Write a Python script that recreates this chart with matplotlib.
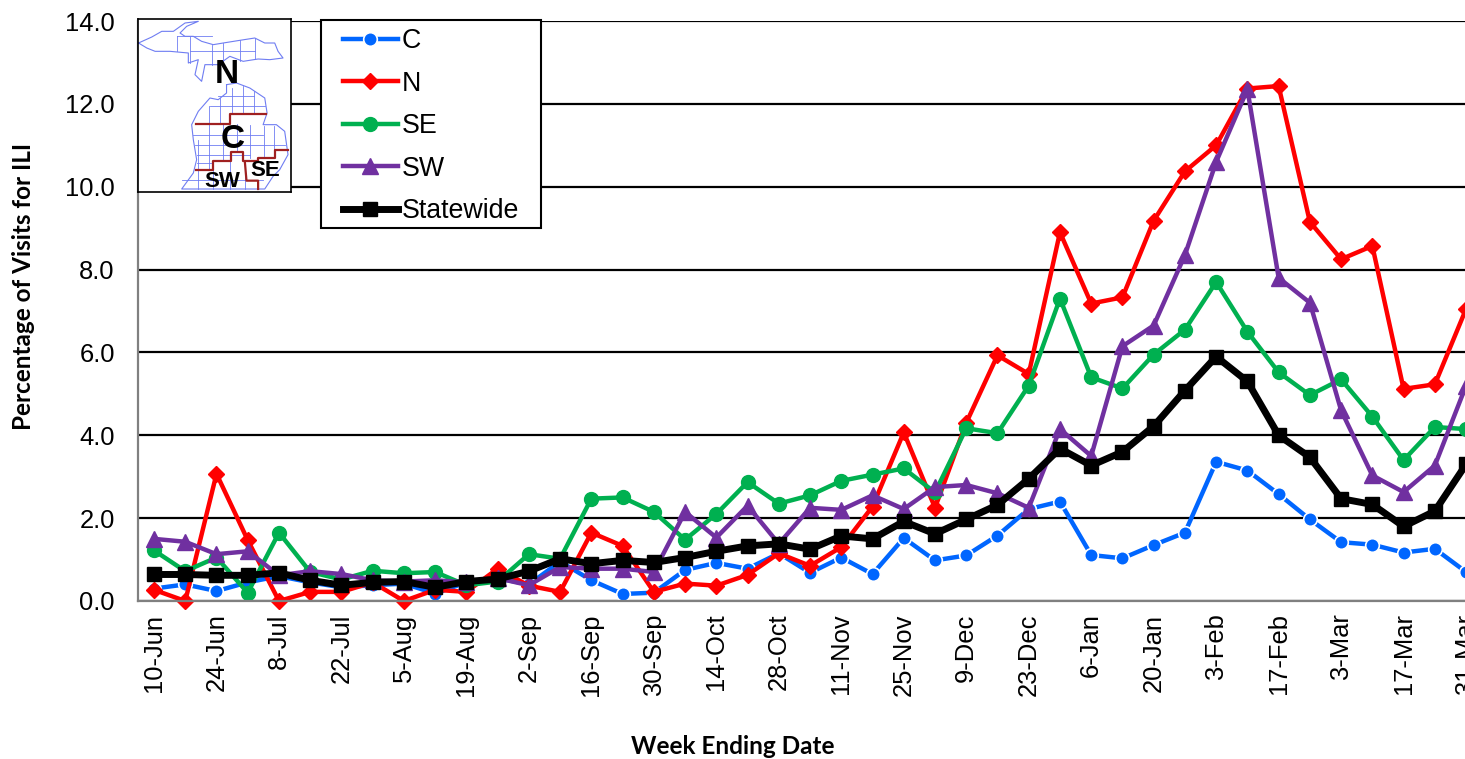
import matplotlib
matplotlib.use('Agg')
import matplotlib.pyplot as plt
from matplotlib.patches import Rectangle

W = 1465
H = 759

weeks = ['10-Jun','17-Jun','24-Jun','1-Jul','8-Jul','15-Jul','22-Jul','29-Jul','5-Aug','12-Aug','19-Aug','26-Aug',
         '2-Sep','9-Sep','16-Sep','23-Sep','30-Sep','7-Oct','14-Oct','21-Oct','28-Oct','4-Nov','11-Nov','18-Nov',
         '25-Nov','2-Dec','9-Dec','16-Dec','23-Dec','30-Dec','6-Jan','13-Jan','20-Jan','27-Jan','3-Feb','10-Feb',
         '17-Feb','24-Feb','3-Mar','10-Mar','17-Mar','24-Mar','31-Mar']

c_vals = [0.30,0.40,0.24,0.45,0.60,0.45,0.33,0.38,0.42,0.18,0.45,0.55,0.40,0.95,0.50,0.17,0.20,0.75,0.92,0.78,1.15,
          0.68,1.05,0.65,1.52,0.98,1.10,1.58,2.22,2.40,1.11,1.03,1.35,1.65,3.36,3.15,2.58,1.97,1.42,1.36,1.17,1.26,0.70]
n_vals = [0.27,0.00,3.07,1.47,0.00,0.22,0.22,0.45,0.00,0.27,0.22,0.78,0.37,0.22,1.65,1.33,0.22,0.42,0.37,0.63,1.15,
          0.85,1.30,2.28,4.07,2.25,4.30,5.93,5.48,8.90,7.18,7.33,9.18,10.37,11.00,12.37,12.43,9.15,8.25,8.57,5.12,5.23,7.05]
se_vals = [1.22,0.72,1.05,0.20,1.65,0.70,0.52,0.73,0.67,0.70,0.38,0.47,1.13,1.02,2.47,2.50,2.15,1.48,2.10,2.87,2.35,
           2.55,2.90,3.05,3.20,2.62,4.17,4.05,5.20,7.30,5.40,5.13,5.95,6.55,7.70,6.50,5.52,4.97,5.35,4.45,3.40,4.20,4.15]
sw_vals = [1.50,1.43,1.13,1.20,0.62,0.72,0.65,0.50,0.47,0.50,0.45,0.55,0.38,0.82,0.78,0.78,0.70,2.15,1.53,2.30,1.38,
           2.25,2.20,2.55,2.22,2.75,2.80,2.60,2.25,4.15,3.50,6.15,6.65,8.35,10.60,12.35,7.80,7.20,4.60,3.03,2.63,3.27,5.20]
state_vals = [0.64,0.64,0.62,0.62,0.68,0.50,0.38,0.45,0.47,0.33,0.47,0.53,0.72,1.02,0.90,0.98,0.93,1.05,1.20,1.33,1.38,
              1.25,1.57,1.50,1.92,1.62,1.97,2.32,2.95,3.68,3.27,3.60,4.22,5.08,5.90,5.30,4.00,3.47,2.47,2.33,1.80,2.17,3.30]

# map inset shapes, in pixels of the zoomed crop
upper = [(25,130),(65,112),(95,95),(130,95),(165,70),(205,65),(170,80),(150,100),(165,110),(190,110),(215,125),
         (250,135),(280,130),(330,122),(375,115),(405,130),(435,130),(445,155),(460,175),(420,180),(385,178),
         (340,185),(300,170),(265,195),(225,195),(215,245),(195,225),(205,180),(175,190),(175,160),(120,155),
         (75,155),(50,145),(25,130)]
lower = [(290,255),(320,250),(360,265),(405,295),(412,340),(400,375),(440,375),(465,395),(475,465),(450,510),
         (430,530),(405,568),(155,568),(190,520),(200,480),(190,420),(185,375),(205,335),(240,295),(265,300),
         (290,280),(290,255)]
county_v = [(140,110,155),(180,110,190),(245,135,195),(280,130,195),(330,122,185),(375,115,178),
            (270,295,372),(305,265,343),(340,260,343),(372,275,343),(238,320,512),(280,372,485),(320,372,457),
            (362,375,475),(402,380,470),(432,380,452),(205,420,568),(250,512,568),(300,485,568),(345,485,568)]
county_h = [(142,245,110),(180,375,155),(265,372,290),(240,405,320),(190,400,405),(195,465,435),(200,360,465),
            (200,250,490),(155,400,540)]
border_1 = [(197,372),(300,372),(300,343),(410,343)]
border_2 = [(197,512),(250,512),(250,485),(303,485),(303,457),(340,457),(340,485),(385,485),(385,475),(437,475),
            (437,452),(475,452)]
border_3 = [(345,485),(350,543),(385,543),(385,568)]
map_labels = [('N',290,225,24),('C',308,418,24),('SW',278,545,16),('SE',405,513,16)]

plt.rcParams['font.family'] = ['Liberation Sans', 'DejaVu Sans']

fig = plt.figure(figsize=(W / 100, H / 100), dpi=100)
# the chart runs past the right edge of the picture, like the reference
x0 = 138.4
x1 = 154 + 42.5 * 31.24
ax = fig.add_axes([x0 / W, 1 - 601 / H, (x1 - x0) / W, 580 / H])

ax.plot(c_vals, color='#0066ff', lw=3.2, marker='o', ms=9.8, mec='white', mew=1.2, label='C', clip_on=True)
ax.plot(n_vals, color='#ff0000', lw=3.2, marker='D', ms=8, mec='#ff0000', label='N', clip_on=False)
ax.plot(se_vals, color='#00b050', lw=3.2, marker='o', ms=10, mec='#00b050', label='SE', clip_on=False)
ax.plot(sw_vals, color='#7030a0', lw=3.2, marker='^', ms=11, mec='#7030a0', label='SW', clip_on=False)
ax.plot(state_vals, color='black', lw=5, marker='s', ms=10.5, mec='black', label='Statewide', clip_on=False)

ax.set_xlim(-0.5, 42.5)
ax.set_ylim(0, 14)
ax.set_yticks([0, 2, 4, 6, 8, 10, 12, 14])
ax.set_yticklabels(['%.1f' % v for v in [0, 2, 4, 6, 8, 10, 12, 14]], fontsize=18.4)
ax.set_xticks(range(0, len(weeks), 2))
ax.set_xticklabels(weeks[::2], rotation=90, fontsize=18.4)
ax.tick_params(axis='y', length=0, pad=17)
ax.tick_params(axis='x', length=0, pad=9)
ax.grid(axis='y', color='black', lw=1.6)
ax.set_axisbelow(True)
for s in ['top', 'right']:
    ax.spines[s].set_visible(False)
for s in ['left', 'bottom']:
    ax.spines[s].set_color('#808080')
    ax.spines[s].set_linewidth(1.6)

# legend box drawn on its own so the side and top padding can differ
ax.add_patch(Rectangle((321 / W, 1 - 228 / H), 220 / W, 208 / H, transform=fig.transFigure, facecolor='white',
                       edgecolor='black', lw=1.5, zorder=9, clip_on=False))
leg = ax.legend(loc='upper left', bbox_to_anchor=(343 / W, 1 - 28 / H), bbox_transform=fig.transFigure, fontsize=19.3,
                frameon=False, borderpad=0, labelspacing=0.62, handlelength=2.05, handletextpad=0.15, borderaxespad=0)
leg.set_zorder(10)

fig.text(24 / W, 1 - 286 / H, 'Percentage of Visits for ILI', rotation=90, ha='center', va='center',
         fontsize=17.5, fontweight='bold', family=['Lato', 'DejaVu Sans'])
fig.text(733 / W, 1 - 746 / H, 'Week Ending Date', ha='center', va='center',
         fontsize=17.5, fontweight='bold', family=['Lato', 'DejaVu Sans'])

# michigan map
m = fig.add_axes([137.5 / W, 1 - 192 / H, 153.5 / W, 173 / H], zorder=5)
m.set_xlim(22, 484)
m.set_ylim(577, 58)
m.set_xticks([])
m.set_yticks([])
for s in m.spines.values():
    s.set_linewidth(1.2)
blue = '#6f7df2'
for shape in [upper, lower]:
    m.plot([p[0] for p in shape], [p[1] for p in shape], color=blue, lw=0.8)
for x, y_a, y_b in county_v:
    m.plot([x, x], [y_a, y_b], color=blue, lw=0.6)
for x_a, x_b, y in county_h:
    m.plot([x_a, x_b], [y, y], color=blue, lw=0.6)
for shape in [border_1, border_2, border_3]:
    m.plot([p[0] for p in shape], [p[1] for p in shape], color='#a02020', lw=1.6)
for txt, x, y, size in map_labels:
    m.text(x, y, txt, ha='center', va='center', fontsize=size, fontweight='bold', color='black')

fig.savefig('out.png', dpi=100)
